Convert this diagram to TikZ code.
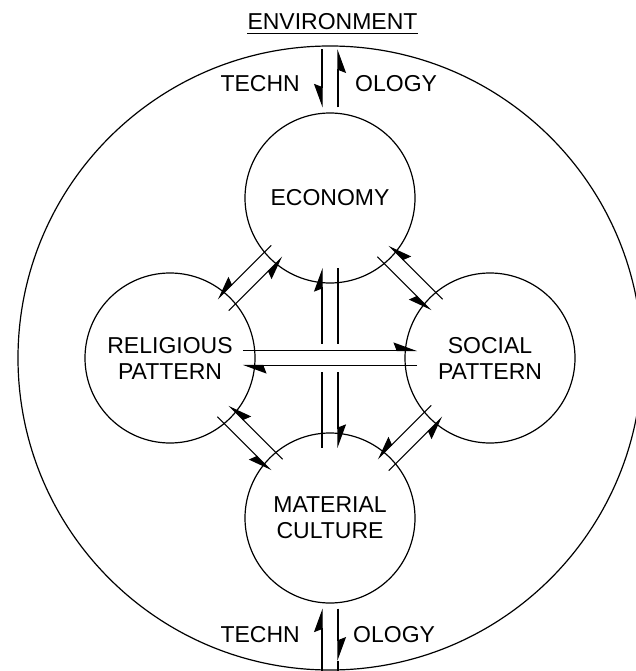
\documentclass[tikz,border=0pt]{standalone}
\usepackage{fontspec}
\setmainfont{Liberation Sans}
\usetikzlibrary{arrows.meta,calc}
\tikzset{
  labfont/.style={font=\fontsize{23}{26}\selectfont},
  lab/.style={labfont, inner sep=0pt},
  circ/.style={circle, draw, line width=1.2pt, minimum size=170pt, inner sep=0pt, align=center, labfont},
  link/.style={line width=1.1pt},
  hl/.style={link, -{Stealth[harpoon, length=22pt, width=16pt, inset=3pt]}},
  hr/.style={link, -{Stealth[harpoon, swap, length=22pt, width=16pt, inset=3pt]}},
}
\begin{document}
\begin{tikzpicture}[x=1pt,y=-1pt]
\path[use as bounding box] (0,0) rectangle (636,671);
\begin{scope}
  \clip (0,0) rectangle (636,671);
  \node[draw, circle, line width=1.2pt, minimum size=624pt, inner sep=0pt] (env) at (330,358) {};
\end{scope}

\node[circ] (eco) at (330,198) {ECONOMY};
\node[circ] (rel) at (170,358) {RELIGIOUS\\PATTERN};
\node[circ] (soc) at (490,358) {SOCIAL\\PATTERN};
\node[circ] (mat) at (330,518) {MATERIAL\\CULTURE};

% labels
\node[lab, anchor=base] (envt) at (332.5,30) {ENVIRONMENT};
\draw[line width=1.2pt] ([yshift=-3.5pt]envt.base west) -- ([yshift=-3.5pt]envt.base east);
\node[lab, anchor=base east] (t1) at (300,92) {TECHN};
\node[lab, anchor=base west] (o1) at (355,92) {OLOGY};
\node[lab, anchor=base east] (t2) at (300,642) {TECHN};
\node[lab, anchor=base west] (o2) at (353,642) {OLOGY};

% technology arrows (top)
\draw[hr] ([xshift=-8pt,yshift=-4pt]env.north) -- ([xshift=-8pt,yshift=5pt]eco.north);
\draw[hr] ([xshift=8pt,yshift=5pt]eco.north) -- ([xshift=8pt,yshift=-4pt]env.north);
% technology arrows (bottom)
\draw[hl] ([xshift=-8pt]env.south) -- ([xshift=-8pt,yshift=-5pt]mat.south);
\draw[hl] ([xshift=8pt,yshift=-5pt]mat.south) -- ([xshift=8pt,yshift=10pt]env.south);
\draw[link] ([xshift=8pt,yshift=10pt]env.south) -- ([xshift=8pt]env.south);

% diagonal pairs (a clockwise before b)
\foreach \a/\b in {rel/eco, eco/soc, soc/mat, mat/rel}{
  \draw[hr] ($(\a)!0.668!(\b)!8pt!90:(\b)$) -- ($(\a)!0.332!(\b)!8pt!90:(\b)$);
  \draw[hr] ($(\a)!0.332!(\b)!8pt!-90:(\b)$) -- ($(\a)!0.668!(\b)!8pt!-90:(\b)$);
}

% horizontal pair
\draw[hl] ($(rel)!0.228!(soc)!7.5pt!90:(soc)$) -- ($(rel)!0.772!(soc)!7.5pt!90:(soc)$);
\draw[hl] ($(rel)!0.772!(soc)!7.5pt!-90:(soc)$) -- ($(rel)!0.228!(soc)!7.5pt!-90:(soc)$);

% vertical pair (broken where it crosses the horizontal pair)
\draw[link] ($(eco)!0.219!(mat)!8pt!90:(mat)$) -- ($(eco)!0.456!(mat)!8pt!90:(mat)$);
\draw[hl] ($(eco)!0.544!(mat)!8pt!90:(mat)$) -- ($(eco)!0.781!(mat)!8pt!90:(mat)$);
\draw[link] ($(eco)!0.781!(mat)!8pt!-90:(mat)$) -- ($(eco)!0.544!(mat)!8pt!-90:(mat)$);
\draw[hl] ($(eco)!0.456!(mat)!8pt!-90:(mat)$) -- ($(eco)!0.219!(mat)!8pt!-90:(mat)$);
\end{tikzpicture}
\end{document}
